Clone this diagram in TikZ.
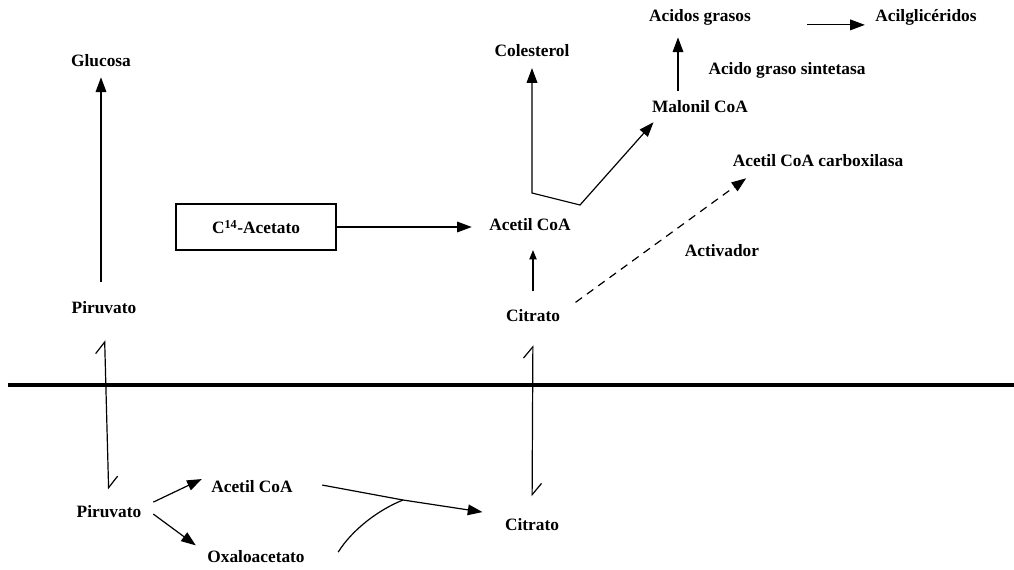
\documentclass[tikz,border=0pt]{standalone}
\usepackage{fontspec}
\setmainfont{Liberation Serif}
\usetikzlibrary{arrows.meta}
\begin{document}
\begin{tikzpicture}[x=0.75pt,y=-0.75pt,
  lbl/.style={font=\bfseries\fontsize{13}{15}\selectfont, inner sep=1pt, anchor=base},
  con/.style={line width=0.9pt},
  arr/.style={con, -{Triangle[length=11pt,width=8pt]}},
  smallarr/.style={con, -{Triangle[length=7pt,width=5.5pt]}},
  dasharr/.style={arr, dash pattern=on 6pt off 4.5pt},
  harp/.style={con, {Straight Barb[left,length=8.5pt,width=14pt]}-{Straight Barb[left,length=8.5pt,width=14pt]}},
  membrane/.style={line width=2.3pt}]
\useasboundingbox (0,0) rectangle (1014,570);
% nodes
\node[lbl] (glu) at (101,67) {Glucosa};
\node[lbl] (piru1) at (104,314) {Piruvato};
\node[draw, line width=0.9pt, minimum width=120pt, minimum height=34.5pt,
      font=\bfseries\fontsize{13}{15}\selectfont] (c14) at (256,227) {C\textsuperscript{14}-Acetato};
\node[lbl] (acoa1) at (530,231) {Acetil CoA};
\node[lbl] (col) at (532,57) {Colesterol};
\node[lbl] (ag) at (700,22) {Acidos grasos};
\node[lbl] (acil) at (926,22) {Acilglicéridos};
\node[lbl] (ags) at (787,75) {Acido graso sintetasa};
\node[lbl] (mal) at (700,113) {Malonil CoA};
\node[lbl] (acc) at (818,167) {Acetil CoA carboxilasa};
\node[lbl] (act) at (722,257) {Activador};
\node[lbl] (cit1) at (533,322) {Citrato};
\node[lbl] (piru2) at (109,517) {Piruvato};
\node[lbl] (acoa2) at (252,492) {Acetil CoA};
\node[lbl] (oxa) at (256,562) {Oxaloacetato};
\node[lbl] (cit2) at (532,530) {Citrato};
% membrane
\coordinate (mL) at (8,385);
\coordinate (mR) at (1014,385);
\draw[membrane] (mL) -- (mR);
% connectors
\draw[arr, shorten <=13.5pt, shorten >=6.4pt] (piru1.north -| glu.south) -- (glu.south);
\draw[harp, shorten <=18.4pt, shorten >=10.5pt] (piru1.south) -- (piru2.north);
\draw[arr, shorten >=12pt] (c14.east) -- (c14.east -| acoa1.west);
\draw[smallarr, shorten <=12.75pt, shorten >=13pt] (cit1.north) -- (cit1.north |- acoa1.south);
\draw[dasharr] ([shift={(14,-6)}]cit1.north east) -- ([shift={(15,9.5)}]acc.south west);
\coordinate (v1) at (532,193);
\coordinate (v2) at (580,205);
\draw[con, {Triangle[length=11pt,width=8pt]}-{Triangle[length=11pt,width=8pt]}, shorten <=7pt]
  (col.south) -- (v1) -- (v2) -- ([shift={(3,7.5)}]mal.south west);
\draw[arr, shorten <=6pt, shorten >=7.5pt] ([shift={(-22,0)}]mal.north) -- ([shift={(-22,0)}]mal.north |- ag.south);
\draw[arr, shorten <=41pt, shorten >=6.75pt] ([shift={(0,7)}]ag.east) -- ([shift={(0,7)}]ag.east -| acil.west);
\draw[harp, shorten <=16pt, shorten >=15pt] (cit1.south) -- (cit2.north);
\draw[arr] ([shift={(10.5,-9)}]piru2.east) -- ([shift={(-8,-7)}]acoa2.west);
\draw[arr] ([shift={(10.5,3)}]piru2.east) -- ([shift={(-10,-3)}]oxa.north west);
\coordinate (j) at (403,500);
\draw[arr] ([shift={(28,-1)}]acoa2.east) -- (j) -- ([shift={(-21,-12)}]cit2.west);
\draw[con] ([shift={(32,-4)}]oxa.east) .. controls (352,530) and (378,510) .. (j);
\end{tikzpicture}
\end{document}
